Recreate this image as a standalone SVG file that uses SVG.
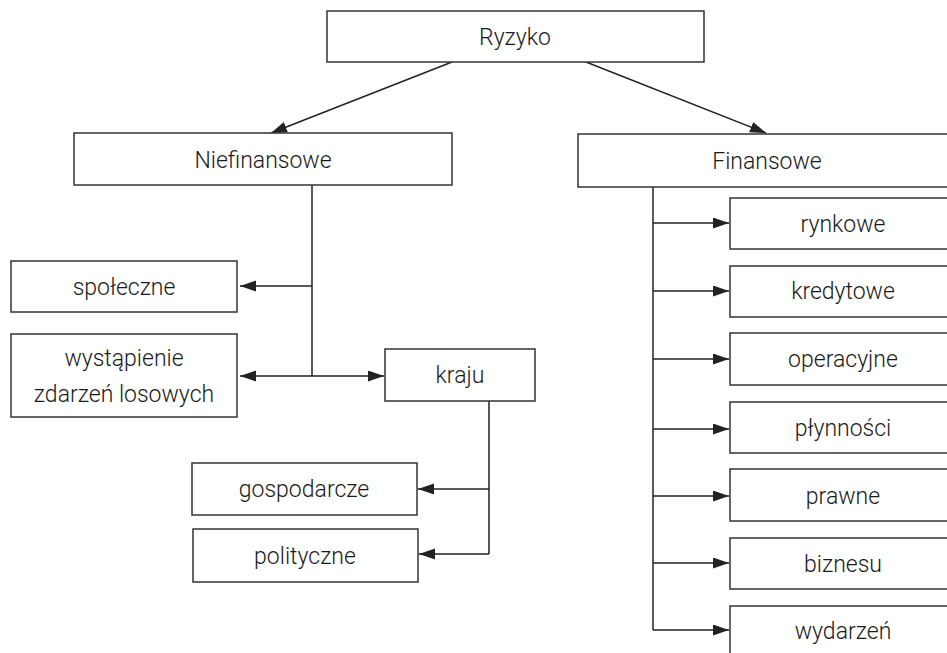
<svg xmlns="http://www.w3.org/2000/svg" width="947" height="653" viewBox="0 0 947 653">
<style>
.box{fill:#fff;stroke:#333;stroke-width:1.5}
.t{font-family:Roboto,"Liberation Sans",sans-serif;font-size:23px;font-weight:300;fill:#1a1a1a;text-anchor:middle}
.c{fill:none;stroke:#222;stroke-width:1.5}
</style>
<defs>
<marker id="ah" markerUnits="userSpaceOnUse" markerWidth="17" markerHeight="12" refX="16" refY="5.5" orient="auto">
<path d="M0,0 L16,5.5 L0,11 Z" fill="#222"/>
</marker>
</defs>
<rect width="947" height="653" fill="#fff"/>
<g id="connectors">
<line class="c" x1="452" y1="62" x2="271" y2="133" marker-end="url(#ah)"/>
<line class="c" x1="586" y1="62" x2="766" y2="133" marker-end="url(#ah)"/>
<line class="c" x1="312" y1="185" x2="312" y2="376"/>
<line class="c" x1="312" y1="286" x2="240" y2="286" marker-end="url(#ah)"/>
<line class="c" x1="312" y1="376" x2="240" y2="376" marker-end="url(#ah)"/>
<line class="c" x1="312" y1="376" x2="384" y2="376" marker-end="url(#ah)"/>
<line class="c" x1="489" y1="401" x2="489" y2="554"/>
<line class="c" x1="489" y1="489" x2="418" y2="489" marker-end="url(#ah)"/>
<line class="c" x1="489" y1="554" x2="419" y2="554" marker-end="url(#ah)"/>
<line class="c" x1="653" y1="187" x2="653" y2="630"/>
<line class="c" x1="653" y1="223" x2="729" y2="223" marker-end="url(#ah)"/>
<line class="c" x1="653" y1="291" x2="729" y2="291" marker-end="url(#ah)"/>
<line class="c" x1="653" y1="359" x2="729" y2="359" marker-end="url(#ah)"/>
<line class="c" x1="653" y1="429" x2="729" y2="429" marker-end="url(#ah)"/>
<line class="c" x1="653" y1="496" x2="729" y2="496" marker-end="url(#ah)"/>
<line class="c" x1="653" y1="563" x2="729" y2="563" marker-end="url(#ah)"/>
<line class="c" x1="653" y1="630" x2="729" y2="630" marker-end="url(#ah)"/>
</g>
<g id="ryzyko"><rect class="box" x="327" y="11" width="377" height="51"/><text class="t" x="515" y="45">Ryzyko</text></g>
<g id="niefinansowe"><rect class="box" x="74" y="133" width="378" height="52"/><text class="t" x="263" y="168">Niefinansowe</text></g>
<g id="finansowe"><rect class="box" x="578" y="134" width="380" height="53"/><text class="t" x="767" y="169">Finansowe</text></g>
<g id="spoleczne"><rect class="box" x="11" y="261" width="226" height="51"/><text class="t" x="124" y="295">społeczne</text></g>
<g id="wystapienie"><rect class="box" x="11" y="334" width="226" height="83"/><text class="t" x="124" y="366">wystąpienie</text><text class="t" x="124" y="402">zdarzeń losowych</text></g>
<g id="kraju"><rect class="box" x="385" y="349" width="150" height="52"/><text class="t" x="460" y="383">kraju</text></g>
<g id="gospodarcze"><rect class="box" x="192" y="463" width="225" height="52"/><text class="t" x="304" y="497">gospodarcze</text></g>
<g id="polityczne"><rect class="box" x="193" y="529" width="225" height="53"/><text class="t" x="305" y="564">polityczne</text></g>
<g id="rynkowe"><rect class="box" x="730" y="198" width="230" height="51"/><text class="t" x="843" y="232">rynkowe</text></g>
<g id="kredytowe"><rect class="box" x="730" y="266" width="230" height="51"/><text class="t" x="843" y="299">kredytowe</text></g>
<g id="operacyjne"><rect class="box" x="730" y="333" width="230" height="52"/><text class="t" x="843" y="367">operacyjne</text></g>
<g id="plynnosci"><rect class="box" x="730" y="402" width="230" height="51"/><text class="t" x="843" y="436">płynności</text></g>
<g id="prawne"><rect class="box" x="730" y="469" width="230" height="52"/><text class="t" x="843" y="504">prawne</text></g>
<g id="biznesu"><rect class="box" x="730" y="538" width="230" height="51"/><text class="t" x="843" y="572">biznesu</text></g>
<g id="wydarzen"><rect class="box" x="730" y="606" width="230" height="52"/><text class="t" x="843" y="639">wydarzeń</text></g>
</svg>
